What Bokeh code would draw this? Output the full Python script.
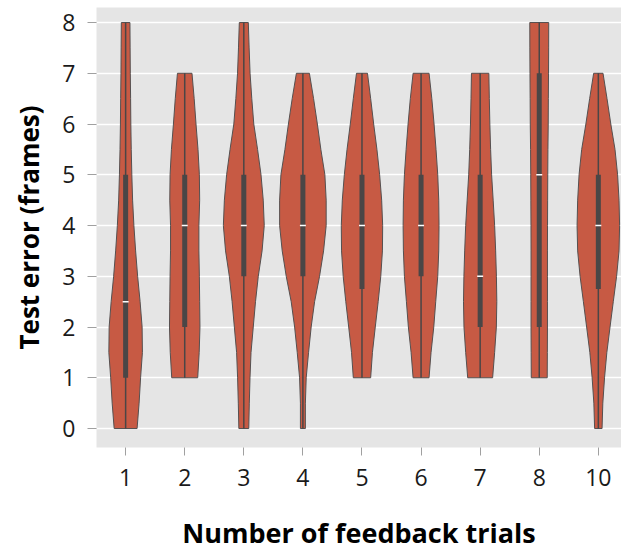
import numpy as np
from bokeh.plotting import figure
from bokeh.models import FixedTicker, Range1d, Title
from bokeh.embed import file_html
from bokeh.resources import INLINE

# ---- data ----
categories = ["1", "2", "3", "4", "5", "6", "7", "8", "10"]
data_min = [0, 1, 0, 0, 1, 1, 1, 1, 0]
data_max = [8, 7, 8, 7, 7, 7, 7, 8, 7]
q1 = [1, 2, 3, 3, 2.75, 3, 2, 2, 2.75]
q3 = [5, 5, 5, 5, 5, 5, 5, 7, 5]
medians = [2.5, 4, 4, 4, 4, 4, 3, 5, 4]

# violin half-widths (category units), sampled every 0.5 from data_min to data_max
width_1 = [0.194, 0.228, 0.253, 0.284, 0.279, 0.245, 0.203, 0.169, 0.140,
           0.118, 0.105, 0.095, 0.088, 0.084, 0.079, 0.076, 0.073]
width_2 = [0.220, 0.245, 0.258, 0.253, 0.248, 0.240, 0.240, 0.253, 0.248,
           0.225, 0.191, 0.160, 0.123]
width_3 = [0.084, 0.093, 0.105, 0.122, 0.160, 0.198, 0.245, 0.309, 0.346,
           0.329, 0.291, 0.233, 0.169, 0.135, 0.106, 0.090, 0.076]
width_4 = [0.042, 0.042, 0.056, 0.096, 0.140, 0.198, 0.282, 0.350, 0.394,
           0.394, 0.372, 0.304, 0.245, 0.181, 0.110]
width_5 = [0.147, 0.177, 0.225, 0.274, 0.318, 0.346, 0.350, 0.333, 0.299,
           0.253, 0.198, 0.147, 0.093]
width_6 = [0.135, 0.169, 0.215, 0.248, 0.282, 0.299, 0.304, 0.299, 0.282,
           0.253, 0.220, 0.182, 0.135]
width_7 = [0.211, 0.245, 0.274, 0.282, 0.275, 0.262, 0.245, 0.220, 0.194,
           0.177, 0.164, 0.155, 0.147]
width_8 = [0.135, 0.137, 0.139, 0.139, 0.139, 0.139, 0.140, 0.142, 0.144,
           0.147, 0.152, 0.154, 0.157, 0.159, 0.160]
width_10 = [0.063, 0.076, 0.105, 0.144, 0.198, 0.253, 0.309, 0.350, 0.360,
            0.350, 0.326, 0.282, 0.211, 0.147, 0.079]
widths = [width_1, width_2, width_3, width_4, width_5, width_6, width_7, width_8, width_10]

FILL = "#C75A44"
EDGE = "#555050"
DARK = "#4a4646"
FONT = "Open Sans"

p = figure(width=621, height=556, output_backend="svg", toolbar_location=None,
           x_range=Range1d(-0.493, 8.392), y_range=Range1d(-0.374, 8.296),
           min_border_left=95, min_border_right=0, min_border_top=7,
           min_border_bottom=109)
p.title.text = ""
p.background_fill_color = "#E5E5E5"
p.border_fill_color = "white"
p.outline_line_color = None

xs_list, ys_list = [], []
for i, (w, lo) in enumerate(zip(widths, data_min)):
    w = np.array(w)
    ys = lo + 0.5 * np.arange(len(w))
    xs_list.append(list(i - w) + list((i + w)[::-1]))
    ys_list.append(list(ys) + list(ys[::-1]))

p.patches(xs_list, ys_list, fill_color=FILL, line_color=EDGE, line_width=1)

idx = list(range(len(categories)))
p.segment(x0=idx, y0=data_min, x1=idx, y1=data_max, line_color=DARK, line_width=1.5)
p.segment(x0=idx, y0=q1, x1=idx, y1=q3, line_color=DARK, line_width=5, line_cap="butt")
p.scatter(idx, medians, marker="dash", size=6, line_color="white", line_width=1.5)

# axes
p.xaxis.ticker = FixedTicker(ticks=idx)
p.xaxis.major_label_overrides = {i: c for i, c in enumerate(categories)}
p.yaxis.ticker = FixedTicker(ticks=list(range(9)))
for ax in (p.xaxis[0], p.yaxis[0]):
    ax.axis_line_color = None
    ax.minor_tick_line_color = None
    ax.major_tick_line_color = "#a0a0a0"
    ax.major_tick_in = 0
    ax.major_label_text_font = FONT
    ax.major_label_text_font_size = "23px"
    ax.major_label_text_color = "#1a1a1a"
p.xaxis.major_tick_out = 8
p.xaxis.major_label_standoff = 13
p.yaxis.major_tick_out = 9
p.yaxis.major_label_standoff = 12

p.xaxis.axis_label = "Number of feedback trials"
p.xaxis.axis_label_standoff = 25
p.xaxis.axis_label_text_font = FONT
p.xaxis.axis_label_text_font_size = "27px"
p.xaxis.axis_label_text_font_style = "bold"
p.xaxis.axis_label_text_color = "black"

p.xgrid.grid_line_color = None
p.ygrid.grid_line_color = "white"
p.ygrid.grid_line_width = 1.5

p.add_layout(Title(text="Test error (frames)", align="center", offset=28,
                   vertical_align="top", standoff=21, text_font=FONT,
                   text_font_size="26px", text_font_style="bold",
                   text_color="black"), "left")

open("out.html", "w").write(file_html(p, INLINE))
